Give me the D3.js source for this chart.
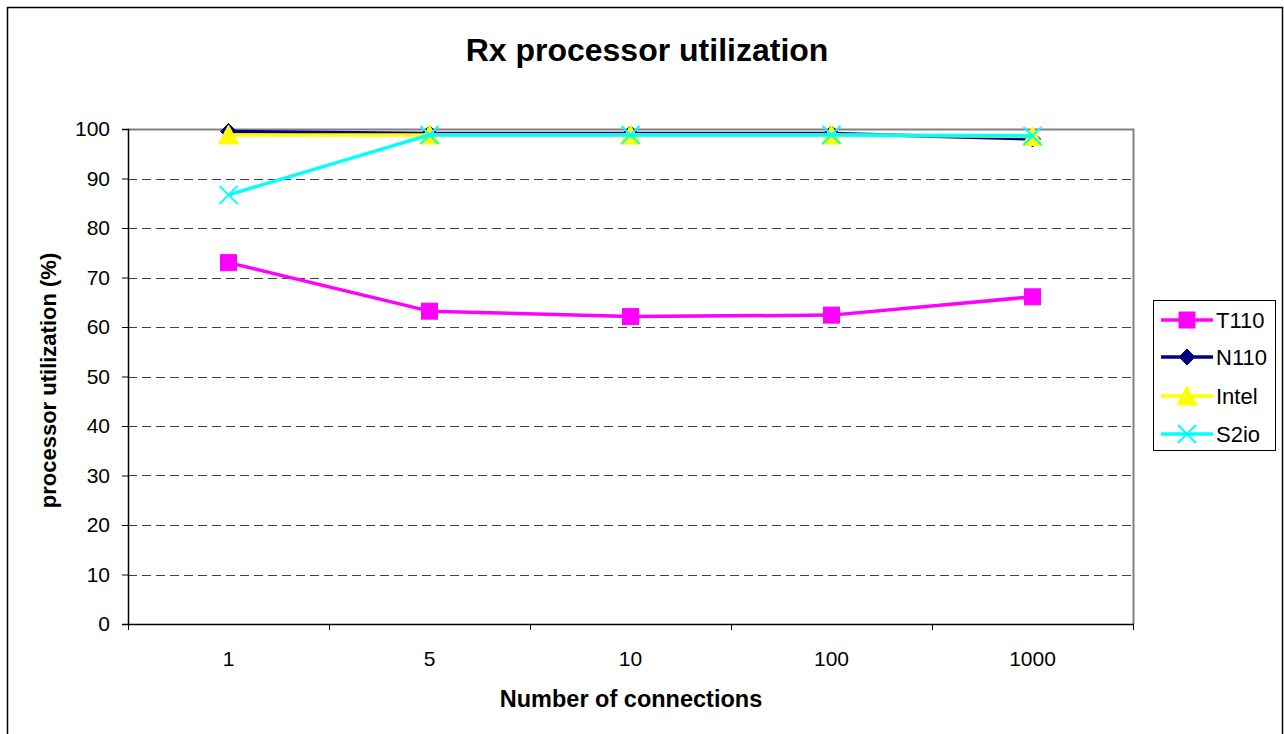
<!DOCTYPE html>
<html>
<head>
<meta charset="utf-8">
<script src="https://cdn.jsdelivr.net/npm/d3@7"></script>
<style>
  html, body { margin: 0; padding: 0; background: #fff; }
  svg { display: block; font-family: Arial, "Liberation Sans", sans-serif; }
</style>
</head>
<body>
<svg id="chart" width="1284" height="734"></svg>
<script>
// Connection counts on the x axis
const categories = ["1", "5", "10", "100", "1000"];
// Receive-side CPU utilisation per adapter (%)
const t110 = [73.0, 63.2, 62.1, 62.4, 66.1];
const n110 = [99.5, 99.1, 99.1, 99.1, 98.0];
const intel = [98.8, 98.8, 98.8, 98.8, 98.5];
const s2io = [86.7, 98.8, 98.8, 98.8, 98.6];
const yTicks = [0, 10, 20, 30, 40, 50, 60, 70, 80, 90, 100];

const series = [
  { name: "T110", values: t110, color: "#ff00ff", marker: "square" },
  { name: "N110", values: n110, color: "#000080", marker: "diamond" },
  { name: "Intel", values: intel, color: "#ffff00", marker: "triangle" },
  { name: "S2io", values: s2io, color: "#00ffff", marker: "cross" }
];

const FONT = "Arial, 'Liberation Sans', sans-serif";
const svg = d3.select("#chart");
const plot = { left: 128, right: 1133, top: 129, bottom: 624 };

// Outer chart border
svg.append("rect")
  .attr("x", 7.5).attr("y", 7.5)
  .attr("width", 1275).attr("height", 740)
  .attr("fill", "#fff").attr("stroke", "#000").attr("stroke-width", 1.5);

const x = d3.scaleBand().domain(categories).range([plot.left, plot.right]).padding(0);
const y = d3.scaleLinear().domain([0, 100]).range([plot.bottom, plot.top]);

// Dashed horizontal gridlines
svg.append("g")
  .selectAll("line")
  .data(yTicks.filter(v => v > 0 && v < 100))
  .join("line")
  .attr("x1", plot.left).attr("x2", plot.right)
  .attr("y1", d => Math.round(y(d)) + 0.5).attr("y2", d => Math.round(y(d)) + 0.5)
  .attr("stroke", "#404040").attr("stroke-width", 1)
  .attr("stroke-dasharray", "9,5");

// Plot area frame (top and right edges in grey)
svg.append("path")
  .attr("d", `M${plot.left},${plot.top + 0.5}H${plot.right + 0.5}V${plot.bottom}`)
  .attr("fill", "none").attr("stroke", "#808080").attr("stroke-width", 2);

// Y axis
const yAxis = svg.append("g")
  .attr("transform", `translate(${plot.left},0)`)
  .call(d3.axisLeft(y).tickValues(yTicks).tickSize(6).tickPadding(12).tickFormat(d3.format("d")));
yAxis.select(".domain").attr("stroke", "#000").attr("stroke-width", 1.5);
yAxis.selectAll(".tick line").attr("stroke", "#000");
yAxis.selectAll(".tick text").attr("font-size", 21).attr("fill", "#000").attr("font-family", FONT);

// X axis with ticks on category boundaries
const xAxis = svg.append("g")
  .attr("transform", `translate(0,${plot.bottom})`)
  .call(d3.axisBottom(x).tickSize(0).tickPadding(27));
xAxis.select(".domain").attr("stroke", "#000").attr("stroke-width", 1.5);
xAxis.selectAll(".tick text").attr("font-size", 21).attr("fill", "#000").attr("font-family", FONT);
const bounds = categories.map(c => x(c)).concat([x(categories[categories.length - 1]) + x.bandwidth()]);
xAxis.selectAll("line.bound")
  .data(bounds)
  .join("line")
  .attr("class", "bound")
  .attr("x1", d => Math.round(d) + 0.5).attr("x2", d => Math.round(d) + 0.5)
  .attr("y1", 0).attr("y2", 6)
  .attr("stroke", "#000");

// Marker shapes
function drawMarker(g, kind, color, cx, cy) {
  if (kind === "square") {
    g.append("rect").attr("x", cx - 8).attr("y", cy - 8).attr("width", 16).attr("height", 16)
      .attr("fill", color).attr("stroke", color).attr("stroke-width", 1);
  } else if (kind === "diamond") {
    g.append("path").attr("d", `M${cx},${cy - 8}L${cx + 8},${cy}L${cx},${cy + 8}L${cx - 8},${cy}Z`)
      .attr("fill", color).attr("stroke", color).attr("stroke-width", 1);
  } else if (kind === "triangle") {
    g.append("path").attr("d", `M${cx},${cy - 10}L${cx + 10},${cy + 9}L${cx - 10},${cy + 9}Z`)
      .attr("fill", color).attr("stroke", color).attr("stroke-width", 1);
  } else if (kind === "cross") {
    g.append("path").attr("d", `M${cx - 9},${cy - 9}L${cx + 9},${cy + 9}M${cx - 9},${cy + 9}L${cx + 9},${cy - 9}`)
      .attr("fill", "none").attr("stroke", color).attr("stroke-width", 2);
  }
}

const line = d3.line()
  .x((d, i) => x(categories[i]) + x.bandwidth() / 2)
  .y(d => y(d));

series.forEach(s => {
  const g = svg.append("g").attr("class", "series");
  g.append("path")
    .attr("d", line(s.values))
    .attr("fill", "none").attr("stroke", s.color).attr("stroke-width", 3.5)
    .attr("stroke-linejoin", "round");
  s.values.forEach((v, i) => {
    drawMarker(g, s.marker, s.color, x(categories[i]) + x.bandwidth() / 2, y(v));
  });
});

// Title
svg.append("text")
  .attr("x", 647).attr("y", 61)
  .attr("text-anchor", "middle")
  .attr("font-size", 32).attr("font-weight", "bold")
  .text("Rx processor utilization");

// Axis titles
svg.append("text")
  .attr("transform", `translate(56,${(plot.top + plot.bottom) / 2 + 4}) rotate(-90)`)
  .attr("text-anchor", "middle")
  .attr("font-size", 22).attr("font-weight", "bold")
  .text("processor utilization (%)");

svg.append("text")
  .attr("x", 631).attr("y", 707)
  .attr("text-anchor", "middle")
  .attr("font-size", 23.5).attr("font-weight", "bold")
  .text("Number of connections");

// Legend
const legend = svg.append("g");
legend.append("rect")
  .attr("x", 1153.5).attr("y", 300.5).attr("width", 122).attr("height", 150)
  .attr("fill", "#fff").attr("stroke", "#000").attr("stroke-width", 1);
const rowY = [320, 357, 396, 434];
series.forEach((s, i) => {
  const cy = rowY[i];
  legend.append("line")
    .attr("x1", 1161).attr("x2", 1213).attr("y1", cy).attr("y2", cy)
    .attr("stroke", s.color).attr("stroke-width", 3.5);
  drawMarker(legend, s.marker, s.color, 1187, cy);
  legend.append("text")
    .attr("x", 1216).attr("y", cy + 8)
    .attr("font-size", 22)
    .text(s.name);
});
</script>
</body>
</html>
